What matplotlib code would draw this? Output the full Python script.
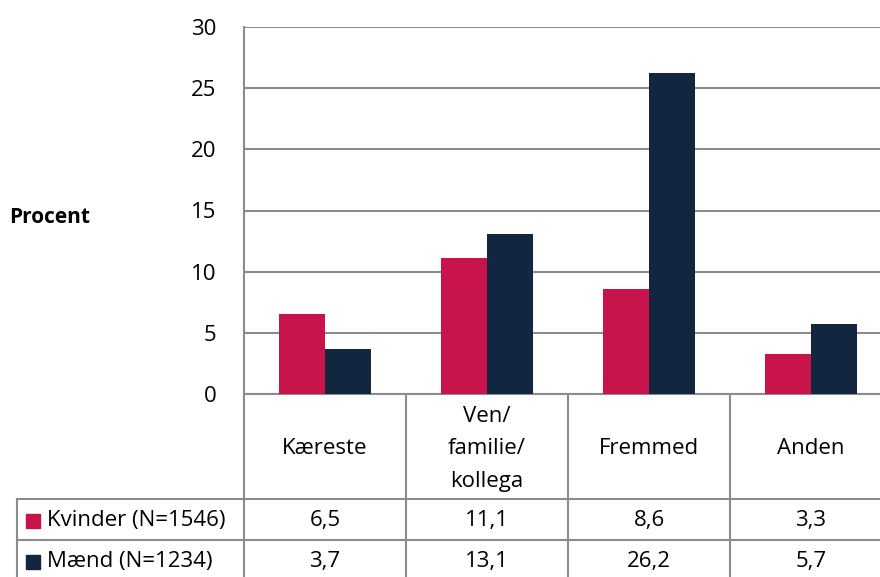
import numpy as np
import matplotlib.pyplot as plt
from matplotlib.patches import Rectangle

categories = ["Kæreste", "Ven/\nfamilie/\nkollega", "Fremmed", "Anden"]
series = ["Kvinder (N=1546)", "Mænd (N=1234)"]
kvinder = [6.5, 11.1, 8.6, 3.3]
maend = [3.7, 13.1, 26.2, 5.7]
colors = ["#C8144B", "#12263F"]
grid_c = "#8C8C8C"

plt.rcParams["font.family"] = ["Open Sans", "DejaVu Sans"]
fs = 16

W, H = 880, 577
fig = plt.figure(figsize=(W / 100, H / 100), dpi=100)

# plot area in pixels: left 244, top 27, zero line at 394, category width 162
cw = 162
x_left, y_top, y_zero = 244, 27, 394
ax = fig.add_axes([x_left / W, 1 - y_zero / H, (W - x_left) / W, (y_zero - y_top) / H])
x = np.arange(len(categories))
bw = 0.285
ax.bar(x - bw / 2, kvinder, bw, color=colors[0], zorder=3)
ax.bar(x + bw / 2, maend, bw, color=colors[1], zorder=3)
ax.set_xlim(-0.5, -0.5 + (W - x_left) / cw)
ax.set_ylim(0, 30)
ax.set_yticks(np.arange(0, 31, 5))
ax.set_xticks([])
ax.tick_params(axis="y", length=0, pad=20, labelsize=fs)
ax.grid(axis="y", color=grid_c, linewidth=1.5, zorder=0)
for s in ["top", "right"]:
    ax.spines[s].set_visible(False)
ax.spines["left"].set_color(grid_c)
ax.spines["left"].set_linewidth(1.5)
ax.spines["bottom"].set_color(grid_c)
ax.spines["bottom"].set_linewidth(1.5)

fig.text(9 / W, 1 - 218 / H, "Procent", fontsize=15, fontweight="bold", va="center", ha="left")

# data table below the plot
tr = ax.get_xaxis_transform()
def fy(py):
    return ax.transAxes.inverted().transform(fig.transFigure.transform((0, 1 - py / H)))[1]

row1, row2, row3 = 499, 540, 581
x_tab_left = -0.5 - (x_left - 17) / cw
lw = 1.5
for i in range(len(categories) + 1):
    ax.plot([i - 0.5, i - 0.5], [0, fy(row3)], color=grid_c, lw=lw, transform=tr, clip_on=False)
ax.plot([x_tab_left, x_tab_left], [fy(row1), fy(row3)], color=grid_c, lw=lw, transform=tr, clip_on=False)
for py in [row1, row2]:
    ax.plot([x_tab_left, 5], [fy(py), fy(py)], color=grid_c, lw=lw, transform=tr, clip_on=False)

for i, c in enumerate(categories):
    ax.text(i, fy(449), c, ha="center", va="center", fontsize=fs, linespacing=1.75,
            transform=tr, clip_on=False)

sq = 14
for r, (name, vals) in enumerate(zip(series, [kvinder, maend])):
    yc = fy((row1 + row2) / 2 + r * (row2 - row1) + 1)
    ax.add_patch(Rectangle((x_tab_left + 9 / cw, yc - 0.5 * sq / (y_zero - y_top)), sq / cw,
                           sq / (y_zero - y_top), color=colors[r], transform=tr, clip_on=False))
    ax.text(x_tab_left + 30 / cw, yc, name, ha="left", va="center", fontsize=fs,
            transform=tr, clip_on=False)
    for i, v in enumerate(vals):
        ax.text(i, yc, f"{v:.1f}".replace(".", ","), ha="center", va="center", fontsize=fs,
                transform=tr, clip_on=False)

fig.savefig("out.png", dpi=100)
